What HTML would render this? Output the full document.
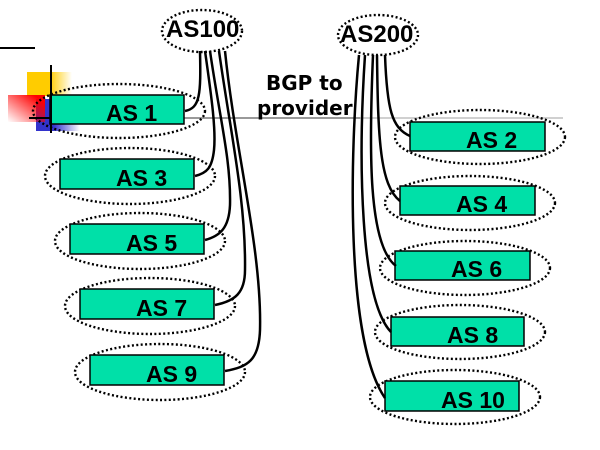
<!DOCTYPE html>
<html><head><meta charset="utf-8"><style>
html,body{margin:0;padding:0;background:#fff;}
svg{display:block;}
.b{font-family:"Liberation Sans",sans-serif;font-weight:bold;font-size:23px;fill:#000;}
.h{font-family:"Liberation Sans",sans-serif;font-weight:bold;font-size:24px;fill:#000;}
.g{font-family:"DejaVu Sans",sans-serif;font-weight:bold;font-size:20px;fill:#000;}
</style></head><body>
<svg width="600" height="450" viewBox="0 0 600 450" xmlns="http://www.w3.org/2000/svg">
<defs>
<linearGradient id="gy" x1="0" y1="0" x2="1" y2="0"><stop offset="0.5" stop-color="#FFCC00"/><stop offset="1" stop-color="#FFCC00" stop-opacity="0"/></linearGradient>
<linearGradient id="gr" x1="1" y1="0" x2="0" y2="1"><stop offset="0.15" stop-color="#FF0000"/><stop offset="1" stop-color="#FF0000" stop-opacity="0"/></linearGradient>
<linearGradient id="gb" x1="0" y1="0" x2="1" y2="0"><stop offset="0.4" stop-color="#3333CC"/><stop offset="1" stop-color="#3333CC" stop-opacity="0"/></linearGradient>
</defs>
<rect x="0" y="47" width="35" height="2" fill="#000"/>
<rect x="27" y="72" width="45" height="24" fill="url(#gy)"/>
<rect x="36" y="99" width="44" height="32" fill="url(#gb)"/>
<rect x="8" y="95" width="37" height="27" fill="url(#gr)"/>
<line x1="184" y1="118" x2="360" y2="118" stroke="#999" stroke-width="2"/>
<line x1="360" y1="118" x2="563" y2="118" stroke="#d0d0d0" stroke-width="2"/>
<g fill="none" stroke="#000" stroke-width="2.4" stroke-dasharray="2 2.4">
<ellipse cx="202" cy="31" rx="40" ry="21"/>
<ellipse cx="378" cy="35" rx="40" ry="20"/>
<ellipse cx="119" cy="111" rx="86" ry="27"/>
<ellipse cx="130" cy="176" rx="85" ry="28"/>
<ellipse cx="140" cy="241" rx="85" ry="28"/>
<ellipse cx="150" cy="306" rx="85" ry="28"/>
<ellipse cx="160" cy="372" rx="85" ry="28"/>
<ellipse cx="480" cy="137" rx="85" ry="27"/>
<ellipse cx="470" cy="203" rx="85" ry="27"/>
<ellipse cx="465" cy="268" rx="85" ry="27"/>
<ellipse cx="460" cy="332" rx="85" ry="27"/>
<ellipse cx="455" cy="397" rx="85" ry="27"/>
</g>
<g fill="#00E0A8" stroke="#000" stroke-width="1.5">
<rect x="50" y="95" width="134" height="29"/>
<rect x="60" y="159" width="134" height="30"/>
<rect x="70" y="224" width="134" height="30"/>
<rect x="80" y="289" width="134" height="30"/>
<rect x="90" y="355" width="134" height="30"/>
<rect x="410" y="122" width="135" height="29"/>
<rect x="400" y="186" width="135" height="29"/>
<rect x="395" y="251" width="135" height="29"/>
<rect x="391" y="317" width="133" height="29"/>
<rect x="385" y="381" width="134" height="30"/>
</g>
<rect x="50" y="65" width="2" height="68" fill="#000"/>
<rect x="29" y="117" width="22" height="2" fill="#000"/>
<text class="b" x="106" y="121">AS 1</text>
<text class="b" x="116" y="186">AS 3</text>
<text class="b" x="126" y="251">AS 5</text>
<text class="b" x="136" y="316">AS 7</text>
<text class="b" x="146" y="382">AS 9</text>
<text class="b" x="466" y="148">AS 2</text>
<text class="b" x="456" y="212">AS 4</text>
<text class="b" x="451" y="277">AS 6</text>
<text class="b" x="447" y="343">AS 8</text>
<text class="b" x="441" y="408">AS 10</text>
<text class="h" x="166" y="37">AS100</text>
<text class="h" x="340" y="42">AS200</text>
<text class="g" x="266" y="90">BGP to</text>
<text class="g" x="257" y="115">provider</text>
<g fill="none" stroke="#000" stroke-width="2.5">
<path d="M200,51 C201,95 200,108 185,111"/>
<path d="M205,51 C212,100 216,130 214,150 C212,168 207,173 195,176"/>
<path d="M210,51 C220,120 231,160 230,205 C229,228 220,236 205,240"/>
<path d="M219,51 C230,130 246,200 245,270 C245,293 235,301 215,305"/>
<path d="M225,51 C235,150 262,250 260,330 C259,360 248,367 225,371"/>
<path d="M385,55 C387,110 392,128 410,136"/>
<path d="M377,55 C378,140 380,185 400,201"/>
<path d="M373,55 C369,150 368,245 396,266"/>
<path d="M365,55 C358,160 360,300 391,332"/>
<path d="M359,55 C350,150 345,340 385,398"/>
</g>
</svg>
</body></html>
